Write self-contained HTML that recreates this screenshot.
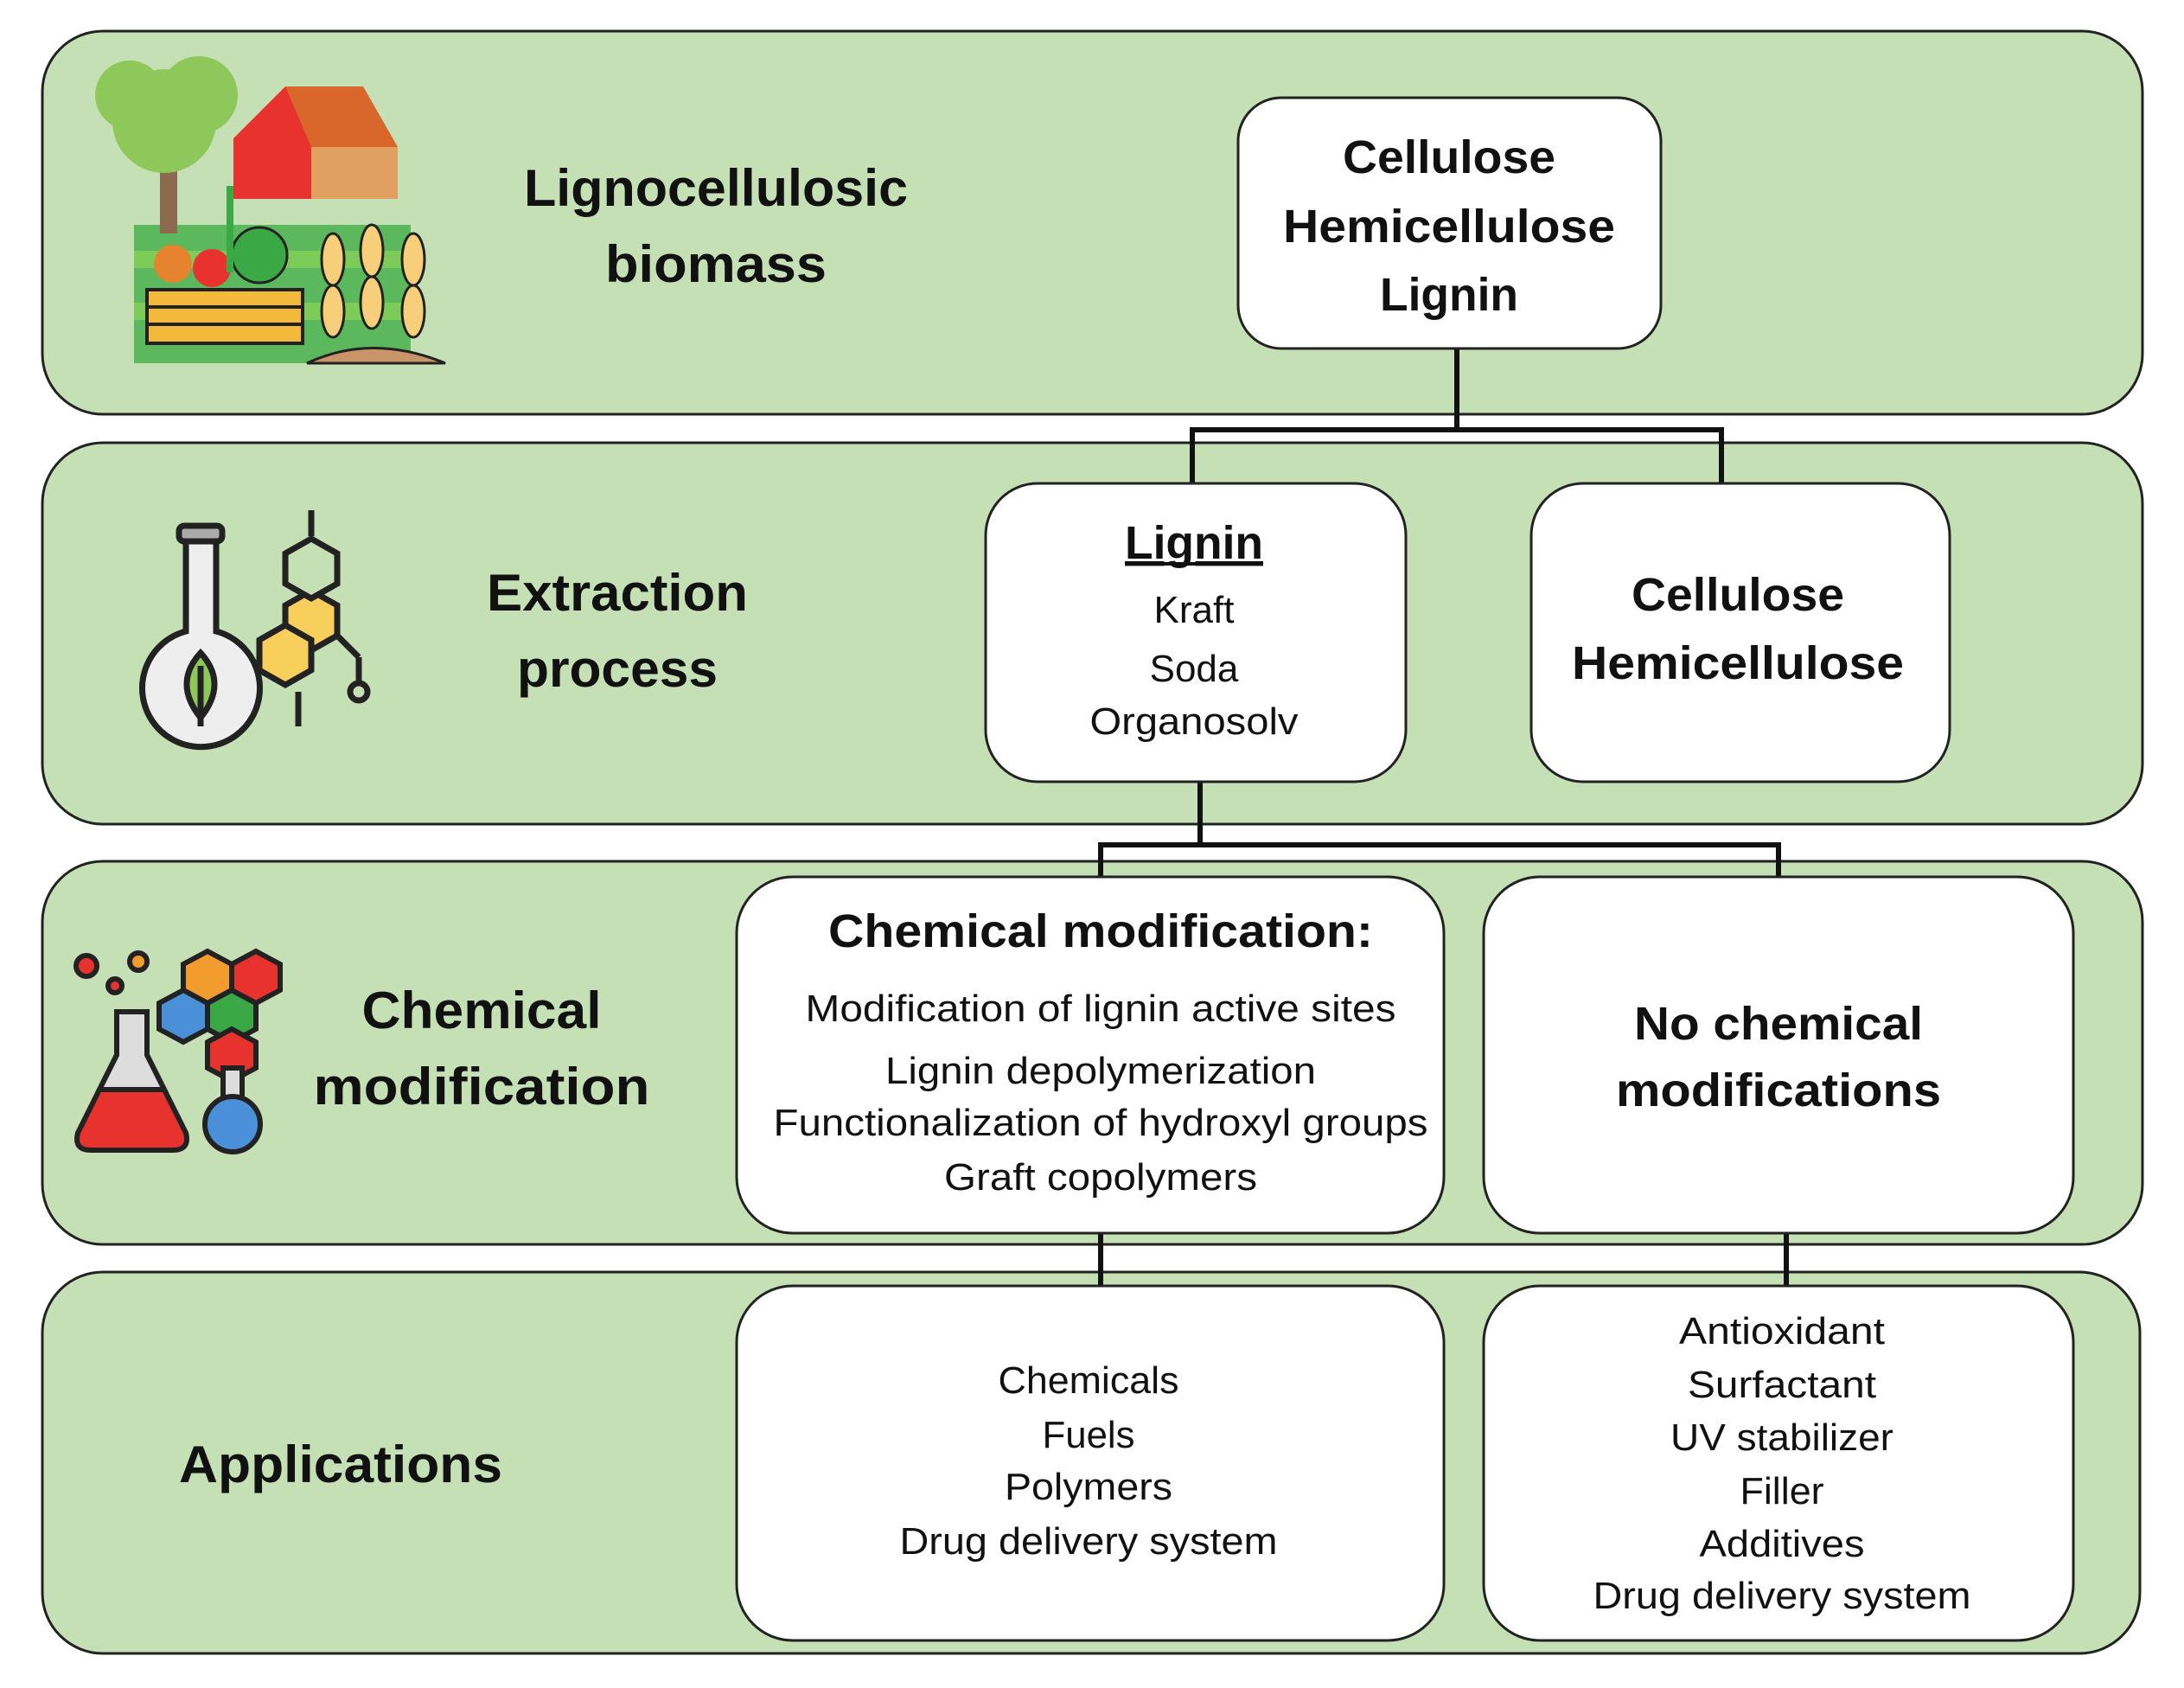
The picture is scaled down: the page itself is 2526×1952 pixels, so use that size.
<!DOCTYPE html>
<html><head><meta charset="utf-8"><style>
html,body{margin:0;padding:0;background:#fff}
svg{display:block}
text{font-family:"Liberation Sans",sans-serif;fill:#111}
.b{font-weight:bold}
</style></head><body>
<svg width="2526" height="1952" viewBox="0 0 2526 1952" xmlns="http://www.w3.org/2000/svg">
<g fill="#c5e0b4" stroke="#222" stroke-width="3">
<rect x="49" y="36" width="2429" height="443" rx="70"/>
<rect x="49" y="512" width="2429" height="441" rx="70"/>
<rect x="49" y="996" width="2429" height="443" rx="70"/>
<rect x="49" y="1471" width="2426" height="441" rx="70"/>
</g>
<!-- connectors -->
<g stroke="#111" stroke-width="6" fill="none">
<path d="M1685 403 V497 M1379 497 H1991 M1379 494 V559 M1991 494 V559"/>
<path d="M1388 904 V977 M1273 977 H2057 M1273 974 V1014 M2057 974 V1014"/>
<path d="M1273 1426 V1487 M2066 1426 V1487"/>
</g>
<!-- boxes -->
<g fill="#fff" stroke="#222" stroke-width="3">
<rect x="1432" y="113" width="489" height="290" rx="50"/>
<rect x="1140" y="559" width="486" height="345" rx="60"/>
<rect x="1771" y="559" width="484" height="345" rx="60"/>
<rect x="852" y="1014" width="818" height="412" rx="65"/>
<rect x="1716" y="1014" width="682" height="412" rx="65"/>
<rect x="852" y="1487" width="818" height="410" rx="65"/>
<rect x="1716" y="1487" width="682" height="410" rx="65"/>
</g>
<!-- left labels -->
<g class="b" font-size="60" text-anchor="middle">
<text x="828" y="238" textLength="444" lengthAdjust="spacingAndGlyphs">Lignocellulosic</text>
<text x="828" y="326" textLength="256" lengthAdjust="spacingAndGlyphs">biomass</text>
<text x="714" y="706" textLength="302" lengthAdjust="spacingAndGlyphs">Extraction</text>
<text x="714" y="794" textLength="232" lengthAdjust="spacingAndGlyphs">process</text>
<text x="557" y="1189" textLength="277" lengthAdjust="spacingAndGlyphs">Chemical</text>
<text x="557" y="1277" textLength="389" lengthAdjust="spacingAndGlyphs">modification</text>
<text x="394" y="1714" textLength="374" lengthAdjust="spacingAndGlyphs">Applications</text>
</g>
<!-- box texts bold -->
<g class="b" font-size="54" text-anchor="middle">
<text x="1676" y="200" textLength="246" lengthAdjust="spacingAndGlyphs">Cellulose</text>
<text x="1676" y="280" textLength="384" lengthAdjust="spacingAndGlyphs">Hemicellulose</text>
<text x="1676" y="359" textLength="160" lengthAdjust="spacingAndGlyphs">Lignin</text>
<text x="1381" y="646" textLength="160" lengthAdjust="spacingAndGlyphs" text-decoration="underline">Lignin</text>
<text x="2010" y="706" textLength="246" lengthAdjust="spacingAndGlyphs">Cellulose</text>
<text x="2010" y="785" textLength="384" lengthAdjust="spacingAndGlyphs">Hemicellulose</text>
<text x="1273" y="1095" textLength="630" lengthAdjust="spacingAndGlyphs">Chemical modification:</text>
<text x="2057" y="1202" textLength="334" lengthAdjust="spacingAndGlyphs">No chemical</text>
<text x="2057" y="1279" textLength="376" lengthAdjust="spacingAndGlyphs">modifications</text>
</g>
<line x1="1302" y1="652" x2="1461" y2="652" stroke="#111" stroke-width="4"/>
<g font-size="44" text-anchor="middle">
<text x="1381" y="720">Kraft</text>
<text x="1381" y="788">Soda</text>
<text x="1381" y="849" textLength="241" lengthAdjust="spacingAndGlyphs">Organosolv</text>
<text x="1273" y="1181" textLength="683" lengthAdjust="spacingAndGlyphs">Modification of lignin active sites</text>
<text x="1273" y="1253" textLength="498" lengthAdjust="spacingAndGlyphs">Lignin depolymerization</text>
<text x="1273" y="1313" textLength="757" lengthAdjust="spacingAndGlyphs">Functionalization of hydroxyl groups</text>
<text x="1273" y="1376" textLength="362" lengthAdjust="spacingAndGlyphs">Graft copolymers</text>
<text x="1259" y="1611" textLength="209" lengthAdjust="spacingAndGlyphs">Chemicals</text>
<text x="1259" y="1674" textLength="107" lengthAdjust="spacingAndGlyphs">Fuels</text>
<text x="1259" y="1734" textLength="194" lengthAdjust="spacingAndGlyphs">Polymers</text>
<text x="1259" y="1797" textLength="437" lengthAdjust="spacingAndGlyphs">Drug delivery system</text>
<text x="2061" y="1554" textLength="238" lengthAdjust="spacingAndGlyphs">Antioxidant</text>
<text x="2061" y="1616" textLength="218" lengthAdjust="spacingAndGlyphs">Surfactant</text>
<text x="2061" y="1677" textLength="258" lengthAdjust="spacingAndGlyphs">UV stabilizer</text>
<text x="2061" y="1739" textLength="97" lengthAdjust="spacingAndGlyphs">Filler</text>
<text x="2061" y="1800" textLength="191" lengthAdjust="spacingAndGlyphs">Additives</text>
<text x="2061" y="1860" textLength="437" lengthAdjust="spacingAndGlyphs">Drug delivery system</text>
</g>
<!-- farm icon -->
<g>
<rect x="155" y="260" width="320" height="160" fill="#5cb85c"/>
<rect x="155" y="290" width="320" height="20" fill="#7dcc5a"/>
<rect x="155" y="350" width="320" height="20" fill="#7dcc5a"/>
<polygon points="270,160 330,100 420,100 440,170 440,230 270,230" fill="#e8322e"/>
<polygon points="330,100 420,100 460,170 360,170" fill="#d9662a"/>
<rect x="360" y="170" width="100" height="60" fill="#e2a060"/>
<rect x="185" y="180" width="20" height="90" fill="#8b6a4e"/>
<circle cx="190" cy="140" r="60" fill="#8fc85a"/>
<circle cx="230" cy="110" r="45" fill="#8fc85a"/>
<circle cx="150" cy="110" r="40" fill="#8fc85a"/>
<rect x="170" y="335" width="180" height="62" fill="#f3b93a" stroke="#222" stroke-width="4"/>
<line x1="170" y1="355" x2="350" y2="355" stroke="#222" stroke-width="4"/>
<line x1="170" y1="375" x2="350" y2="375" stroke="#222" stroke-width="4"/>
<circle cx="200" cy="305" r="22" fill="#e6832e"/>
<circle cx="245" cy="310" r="22" fill="#e8322e"/>
<circle cx="300" cy="295" r="32" fill="#39a845" stroke="#222" stroke-width="3"/>
<rect x="262" y="215" width="8" height="100" fill="#39a845"/>
<g fill="#f7cf7a" stroke="#222" stroke-width="3">
<ellipse cx="385" cy="300" rx="13" ry="30"/><ellipse cx="430" cy="290" rx="13" ry="30"/><ellipse cx="478" cy="300" rx="13" ry="30"/>
<ellipse cx="385" cy="360" rx="13" ry="30"/><ellipse cx="430" cy="350" rx="13" ry="30"/><ellipse cx="478" cy="360" rx="13" ry="30"/>
</g>
<path d="M355 420 Q430 385 515 420 Z" fill="#c9946a" stroke="#222" stroke-width="3"/>
</g>
<!-- flask icon -->
<g stroke="#222" stroke-width="7">
<rect x="207" y="608" width="50" height="18" rx="6" fill="#aaa"/>
<path d="M215 626 V730 A68 68 0 1 0 250 730 V626 Z" fill="#eee"/>
<path d="M232 755 Q200 790 232 830 Q264 790 232 755 Z" fill="#8fc85a"/>
<line x1="232" y1="770" x2="232" y2="840"/>
<g fill="#f7cf5a"><polygon points="330,700 360,683 390,700 390,735 360,752 330,735"/><polygon points="300,740 330,723 360,740 360,775 330,792 300,775"/></g>
<polygon points="330,640 360,623 390,640 390,675 360,692 330,675" fill="#c5e0b4"/>
<circle cx="415" cy="800" r="10" fill="none"/>
<line x1="390" y1="735" x2="415" y2="760"/><line x1="415" y1="760" x2="415" y2="790"/>
<line x1="360" y1="620" x2="360" y2="590"/><line x1="345" y1="800" x2="345" y2="840"/>
</g>
<!-- chemistry icon -->
<g stroke="#222" stroke-width="6">
<circle cx="100" cy="1117" r="12" fill="#e8322e"/><circle cx="160" cy="1112" r="10" fill="#f39c2e"/><circle cx="133" cy="1140" r="8" fill="#e8322e"/>
<polygon points="212,1115 240,1100 268,1115 268,1145 240,1160 212,1145" fill="#f39c2e"/>
<polygon points="240,1160 268,1145 296,1160 296,1190 268,1205 240,1190" fill="#39a845"/>
<polygon points="184,1160 212,1145 240,1160 240,1190 212,1205 184,1190" fill="#4a90d9"/>
<polygon points="240,1205 268,1190 296,1205 296,1235 268,1250 240,1235" fill="#e8322e"/>
<polygon points="268,1115 296,1100 324,1115 324,1145 296,1160 268,1145" fill="#e8322e"/>
<path d="M135 1170 H170 V1220 L215 1310 Q220 1330 200 1330 H105 Q85 1330 90 1310 L135 1220 Z" fill="#e8322e"/>
<path d="M135 1170 H170 V1220 L190 1260 H115 L135 1220 Z" fill="#ddd"/>
<rect x="258" y="1235" width="22" height="40" fill="#ddd"/>
<circle cx="269" cy="1300" r="32" fill="#4a90d9"/>
</g>
</svg>
</body></html>
